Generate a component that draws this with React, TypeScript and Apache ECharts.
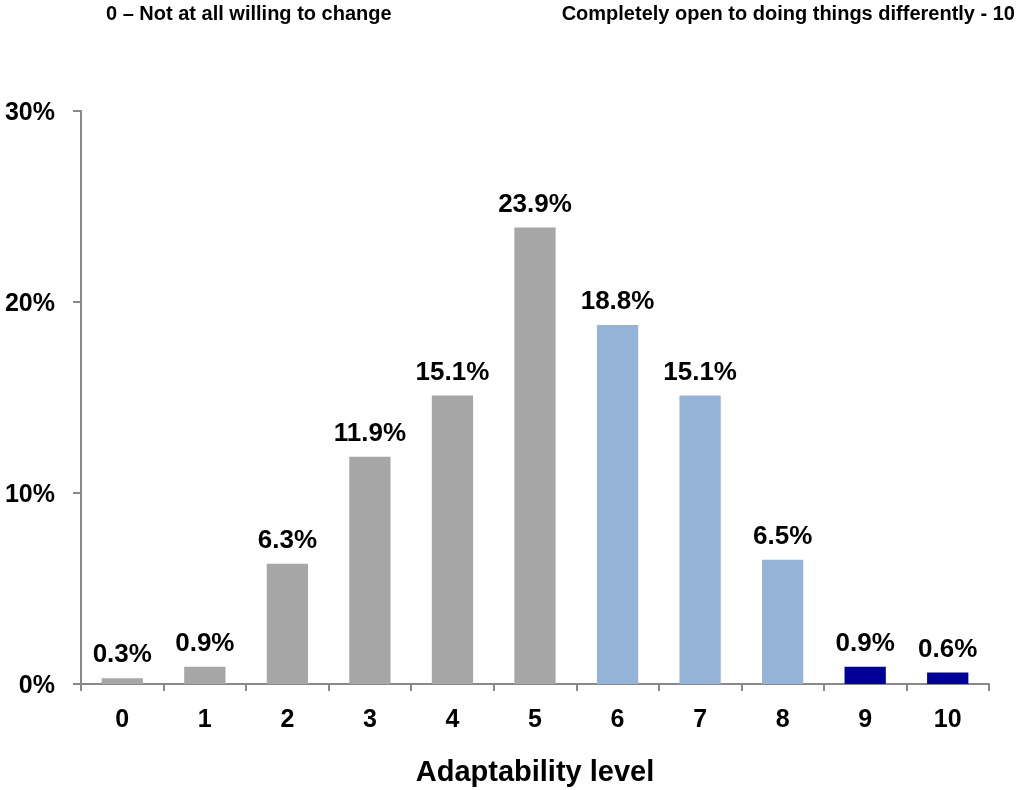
import React, { useEffect, useRef } from "react";
import * as echarts from "echarts";

const categories = ["0", "1", "2", "3", "4", "5", "6", "7", "8", "9", "10"];
const values = [0.3, 0.9, 6.3, 11.9, 15.1, 23.9, 18.8, 15.1, 6.5, 0.9, 0.6];
const barColors = [
  "#A6A6A6", "#A6A6A6", "#A6A6A6", "#A6A6A6", "#A6A6A6", "#A6A6A6",
  "#95B3D7", "#95B3D7", "#95B3D7",
  "#000099", "#000099",
];
const yTicks = [0, 10, 20, 30];
const leftNote = "0 – Not at all willing to change";
const rightNote = "Completely open to doing things differently - 10";
const axisTitle = "Adaptability level";

const FONT = "'Liberation Sans', Arial, sans-serif";

export default function App() {
  const ref = useRef<HTMLDivElement>(null);
  useEffect(() => {
    if (!ref.current) return;
    const chart = echarts.init(ref.current, null, { renderer: "svg" });
    chart.setOption({
      animation: false,
      textStyle: { fontFamily: FONT },
      graphic: [
        {
          type: "text",
          x: 106,
          y: 3,
          style: { text: leftNote, font: `bold 20px ${FONT}`, fill: "#000" },
        },
        {
          type: "text",
          x: 1015,
          y: 3,
          style: { text: rightNote, font: `bold 20px ${FONT}`, fill: "#000", align: "right" },
        },
      ],
      grid: { left: 81, right: 37, top: 111, bottom: 100, containLabel: false },
      xAxis: {
        type: "category",
        data: categories,
        name: axisTitle,
        nameLocation: "middle",
        nameGap: 72,
        nameTextStyle: { fontSize: 29, fontWeight: "bold", color: "#000", fontFamily: FONT },
        axisLine: { show: true, lineStyle: { color: "#898989", width: 2 } },
        axisTick: { show: true, length: 7, lineStyle: { color: "#898989", width: 2 } },
        axisLabel: { fontSize: 25, fontWeight: "bold", color: "#000", margin: 21, fontFamily: FONT },
      },
      yAxis: {
        type: "value",
        min: yTicks[0],
        max: yTicks[yTicks.length - 1],
        interval: 10,
        axisLine: { show: true, lineStyle: { color: "#898989", width: 2 } },
        axisTick: { show: true, length: 8, lineStyle: { color: "#898989", width: 2 } },
        splitLine: { show: false },
        axisLabel: {
          fontSize: 25,
          fontWeight: "bold",
          color: "#000",
          margin: 26,
          fontFamily: FONT,
          formatter: (v: number) => `${v}%`,
        },
      },
      series: [
        {
          type: "bar",
          barWidth: "50%",
          data: values.map((v, i) => ({ value: v, itemStyle: { color: barColors[i] } })),
          label: {
            show: true,
            position: "top",
            distance: 12,
            fontSize: 26,
            fontWeight: "bold",
            color: "#000",
            fontFamily: FONT,
            formatter: (p: any) => `${p.value.toFixed(1)}%`,
          },
        },
      ],
    });
    return () => chart.dispose();
  }, []);
  return (
    <div
      ref={ref}
      style={{ position: "fixed", left: 0, top: 0, width: 1026, height: 790 }}
    />
  );
}
